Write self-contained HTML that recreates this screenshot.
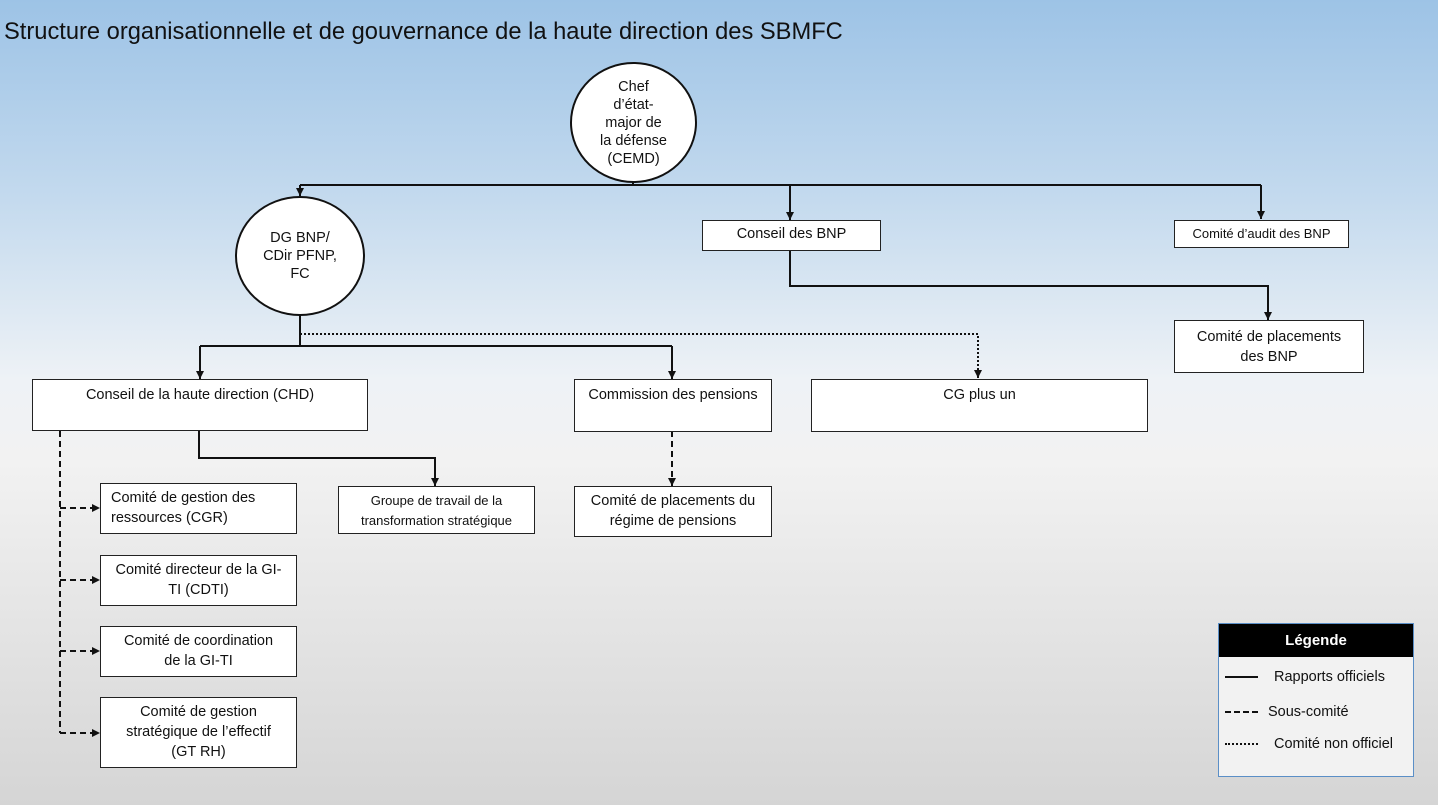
<!DOCTYPE html>
<html><head><meta charset="utf-8"><style>
*{margin:0;padding:0;box-sizing:border-box}
html,body{width:1438px;height:805px;overflow:hidden}
body{position:relative;font-family:"Liberation Sans",sans-serif;color:#111;
background:linear-gradient(to bottom,#9dc3e6 0px,#c4daee 200px,#eef2f6 380px,#f2f2f2 460px,#d5d5d5 805px)}
.t{position:absolute;left:4px;top:19px;font-size:23.7px;white-space:nowrap;color:#111}
.b{position:absolute;background:#fff;border:1px solid #222;font-size:14.5px;text-align:center;line-height:20px;padding-top:3px}
.e{position:absolute;background:#fff;border:2px solid #111;border-radius:50%;display:flex;align-items:center;justify-content:center;text-align:center;font-size:14.5px;line-height:18px}
svg{position:absolute;left:0;top:0}
.lg{position:absolute;left:1218px;top:623px;width:196px;height:154px;border:1px solid #5b8fc7;background:#f2f2f2}
.lg .h{background:#000;color:#fff;font-weight:bold;text-align:center;height:33px;line-height:33px;font-size:15px}
.lg .r{position:absolute;font-size:14.5px;white-space:nowrap}
</style></head><body>
<div class="t">Structure organisationnelle et de gouvernance de la haute direction des SBMFC</div>
<svg width="1438" height="805">
<defs><marker id="a" markerWidth="9" markerHeight="9" refX="8" refY="4" orient="auto" markerUnits="userSpaceOnUse"><path d="M0,0 L8,4 L0,8z" fill="#111"/></marker></defs>
<g stroke="#111" stroke-width="2" fill="none">
<line x1="633" y1="182" x2="633" y2="185"/>
<line x1="300" y1="185" x2="1261" y2="185"/>
<line x1="300" y1="185" x2="300" y2="196" marker-end="url(#a)"/>
<line x1="790" y1="185" x2="790" y2="220" marker-end="url(#a)"/>
<line x1="1261" y1="185" x2="1261" y2="219" marker-end="url(#a)"/>
<polyline points="790,250 790,286 1268,286 1268,320" marker-end="url(#a)"/>
<line x1="300" y1="315" x2="300" y2="346"/>
<line x1="200" y1="346" x2="672" y2="346"/>
<line x1="200" y1="346" x2="200" y2="379" marker-end="url(#a)"/>
<line x1="672" y1="346" x2="672" y2="379" marker-end="url(#a)"/>
<polyline points="300,334 978,334 978,378" stroke-dasharray="2,2" marker-end="url(#a)"/>
<polyline points="199,430 199,458 435,458 435,486" marker-end="url(#a)"/>
<line x1="672" y1="431" x2="672" y2="486" stroke-dasharray="6,4" marker-end="url(#a)"/>
<line x1="60" y1="431" x2="60" y2="733" stroke-dasharray="6,4"/>
<line x1="60" y1="508" x2="100" y2="508" stroke-dasharray="6,4" marker-end="url(#a)"/>
<line x1="60" y1="580" x2="100" y2="580" stroke-dasharray="6,4" marker-end="url(#a)"/>
<line x1="60" y1="651" x2="100" y2="651" stroke-dasharray="6,4" marker-end="url(#a)"/>
<line x1="60" y1="733" x2="100" y2="733" stroke-dasharray="6,4" marker-end="url(#a)"/>
</g></svg>
<div class="e" style="left:570px;top:62px;width:127px;height:121px">Chef<br>d’état-<br>major de<br>la défense<br>(CEMD)</div>
<div class="e" style="left:235px;top:196px;width:130px;height:120px">DG BNP/<br>CDir PFNP,<br>FC</div>
<div class="b" style="left:702px;top:220px;width:179px;height:31px">Conseil des BNP</div>
<div class="b" style="left:1174px;top:220px;width:175px;height:28px;font-size:13px">Comité d’audit des BNP</div>
<div class="b" style="left:1174px;top:320px;width:190px;height:53px;padding-top:6px">Comité de placements<br>des BNP</div>
<div class="b" style="left:32px;top:379px;width:336px;height:52px;padding-top:5px">Conseil de la haute direction (CHD)</div>
<div class="b" style="left:574px;top:379px;width:198px;height:53px;padding-top:5px">Commission des pensions</div>
<div class="b" style="left:811px;top:379px;width:337px;height:53px;padding-top:5px">CG plus un</div>
<div class="b" style="left:338px;top:486px;width:197px;height:48px;font-size:13px;padding-top:4px">Groupe de travail de la<br>transformation stratégique</div>
<div class="b" style="left:574px;top:486px;width:198px;height:51px;padding-top:4px">Comité de placements du<br>régime de pensions</div>
<div class="b" style="left:100px;top:483px;width:197px;height:51px;text-align:left;padding-left:10px;padding-top:4px">Comité de gestion des<br>ressources (CGR)</div>
<div class="b" style="left:100px;top:555px;width:197px;height:51px;padding-top:4px">Comité directeur de la GI-<br>TI (CDTI)</div>
<div class="b" style="left:100px;top:626px;width:197px;height:51px;padding-top:4px">Comité de coordination<br>de la GI-TI</div>
<div class="b" style="left:100px;top:697px;width:197px;height:71px;padding-top:4px">Comité de gestion<br>stratégique de l’effectif<br>(GT RH)</div>
<div class="lg"><div class="h">Légende</div>
<div class="r" style="left:6px;top:45px"><span style="display:inline-block;width:33px;border-top:2px solid #111;vertical-align:middle;margin-right:16px"></span>Rapports officiels</div>
<div class="r" style="left:6px;top:80px"><span style="display:inline-block;width:33px;border-top:2px dashed #111;vertical-align:middle;margin-right:10px"></span>Sous-comité</div>
<div class="r" style="left:6px;top:112px"><span style="display:inline-block;width:33px;border-top:2px dotted #111;vertical-align:middle;margin-right:16px"></span>Comité non officiel</div>
</div>
</body></html>
